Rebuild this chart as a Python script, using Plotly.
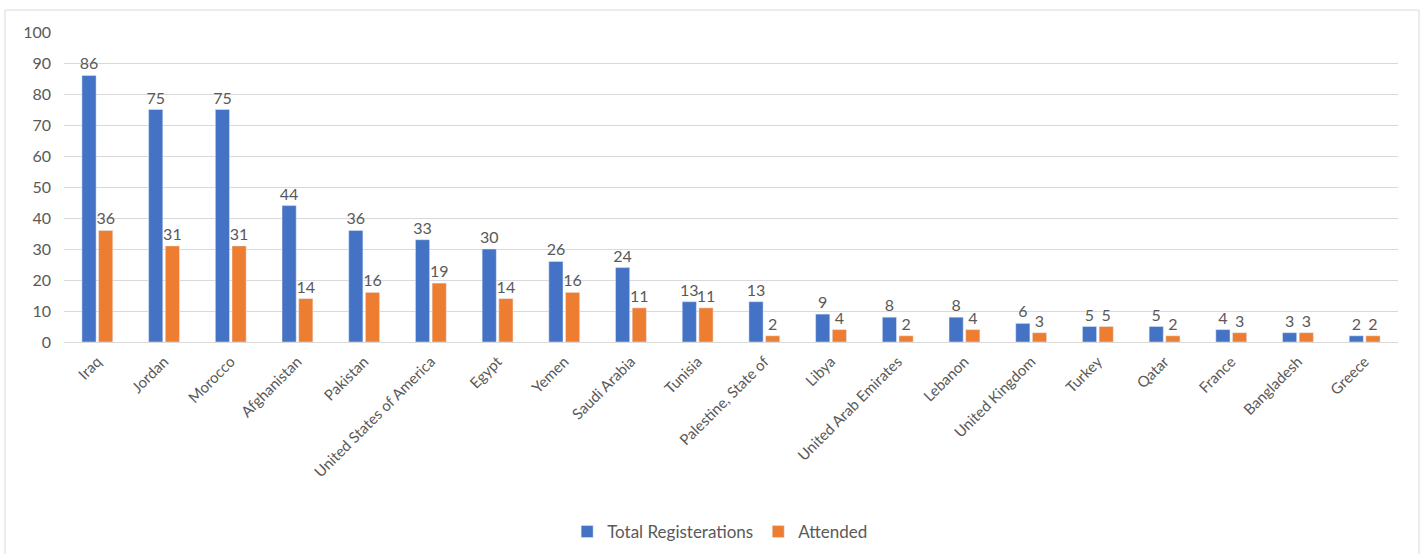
import plotly.graph_objects as go

countries = ["Iraq", "Jordan", "Morocco", "Afghanistan", "Pakistan", "United States of America",
             "Egypt", "Yemen", "Saudi Arabia", "Tunisia", "Palestine, State of", "Libya",
             "United Arab Emirates", "Lebanon", "United Kingdom", "Turkey", "Qatar", "France",
             "Bangladesh", "Greece"]
total_registrations = [86, 75, 75, 44, 36, 33, 30, 26, 24, 13, 13, 9, 8, 8, 6, 5, 5, 4, 3, 2]
attended = [36, 31, 31, 14, 16, 19, 14, 16, 11, 11, 2, 4, 2, 4, 3, 5, 2, 3, 3, 2]
y_ticks = [0, 10, 20, 30, 40, 50, 60, 70, 80, 90, 100]

FONT = "Lato, Calibri, Carlito, sans-serif"
GRAY = "#595959"

fig = go.Figure()
for name, vals, col in [("Total Registerations", total_registrations, "#4472C4"),
                        ("Attended", attended, "#ED7D31")]:
    fig.add_trace(go.Bar(name=name, x=countries, y=vals,
                         marker_color=col, text=vals, textposition="outside",
                         constraintext="none", cliponaxis=False,
                         textfont=dict(size=16, color=GRAY, family=FONT)))

W, H = 1426, 554
ml, mr, mt, mb = 64, 28, 32, 212
pw, ph = W - ml - mr, H - mt - mb

fig.update_layout(
    width=W, height=H,
    margin=dict(l=ml, r=mr, t=mt, b=mb, autoexpand=False),
    barmode="group", bargap=0.5, bargroupgap=0.15,
    plot_bgcolor="white", paper_bgcolor="white",
    font=dict(family=FONT, color=GRAY, size=15),
    showlegend=True,
    legend=dict(orientation="h", x=0.505, xanchor="center", xref="container",
                y=1 - 532 / H, yanchor="middle", yref="container",
                font=dict(size=17, color=GRAY, family=FONT),
                traceorder="normal"),
    shapes=[dict(type="rect", xref="paper", yref="paper",
                 x0=(5 - ml) / pw, x1=(1419 - ml) / pw,
                 y0=(342 - 560) / ph, y1=(342 - 10) / ph,
                 line=dict(color="#D9D9D9", width=1), layer="below")],
)
fig.update_yaxes(range=[0, 100], tickvals=y_ticks, showgrid=True, gridcolor="#D9D9D9",
                 zeroline=False, showline=False, ticks="", ticklabelstandoff=12,
                 tickfont=dict(size=16, color=GRAY, family=FONT))
fig.update_xaxes(tickangle=-45, showline=True, linecolor="#D9D9D9", ticks="",
                 ticklabelstandoff=4,
                 tickfont=dict(size=15, color=GRAY, family=FONT))

fig.write_html("out.html")
